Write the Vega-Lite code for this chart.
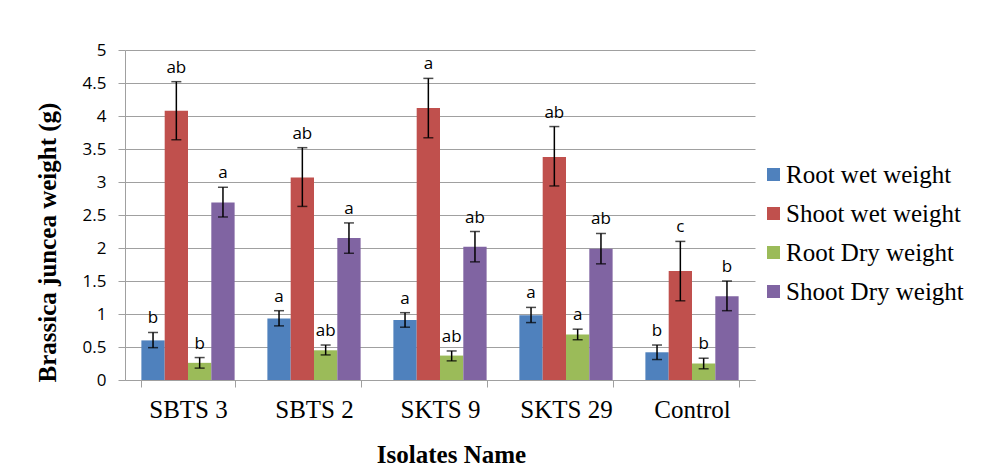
{
  "$schema": "https://vega.github.io/schema/vega-lite/v6.json",
  "width": 630,
  "height": 330,
  "autosize": "none",
  "padding": {"left": 125, "top": 50, "right": 231, "bottom": 87},
  "background": "white",
  "config": {
    "view": {"stroke": null},
    "axis": {"labelColor": "black", "titleColor": "black"},
    "legend": {
      "orient": "none",
      "legendX": 636,
      "legendY": 112,
      "symbolType": "square",
      "symbolSize": 169,
      "symbolStrokeWidth": 0,
      "labelFont": "Liberation Serif",
      "labelFontSize": 25,
      "labelColor": "black",
      "labelOffset": 0,
      "rowPadding": 13,
      "labelLimit": 300
    }
  },
  "data": {
    "values": [
      {"group": "SBTS 3", "series": "Root  wet weight", "value": 0.60, "lo": 0.49, "hi": 0.72, "letter": "b"},
      {"group": "SBTS 3", "series": "Shoot wet weight", "value": 4.08, "lo": 3.64, "hi": 4.52, "letter": "ab"},
      {"group": "SBTS 3", "series": "Root Dry weight", "value": 0.26, "lo": 0.18, "hi": 0.34, "letter": "b"},
      {"group": "SBTS 3", "series": "Shoot Dry weight", "value": 2.69, "lo": 2.47, "hi": 2.92, "letter": "a"},
      {"group": "SBTS 2", "series": "Root  wet weight", "value": 0.93, "lo": 0.82, "hi": 1.05, "letter": "a"},
      {"group": "SBTS 2", "series": "Shoot wet weight", "value": 3.07, "lo": 2.63, "hi": 3.52, "letter": "ab"},
      {"group": "SBTS 2", "series": "Root Dry weight", "value": 0.45, "lo": 0.38, "hi": 0.53, "letter": "ab"},
      {"group": "SBTS 2", "series": "Shoot Dry weight", "value": 2.15, "lo": 1.92, "hi": 2.38, "letter": "a"},
      {"group": "SKTS 9", "series": "Root  wet weight", "value": 0.91, "lo": 0.80, "hi": 1.02, "letter": "a"},
      {"group": "SKTS 9", "series": "Shoot wet weight", "value": 4.12, "lo": 3.67, "hi": 4.57, "letter": "a"},
      {"group": "SKTS 9", "series": "Root Dry weight", "value": 0.37, "lo": 0.29, "hi": 0.44, "letter": "ab"},
      {"group": "SKTS 9", "series": "Shoot Dry weight", "value": 2.02, "lo": 1.79, "hi": 2.25, "letter": "ab"},
      {"group": "SKTS 29", "series": "Root  wet weight", "value": 0.98, "lo": 0.87, "hi": 1.10, "letter": "a"},
      {"group": "SKTS 29", "series": "Shoot wet weight", "value": 3.38, "lo": 2.94, "hi": 3.84, "letter": "ab"},
      {"group": "SKTS 29", "series": "Root Dry weight", "value": 0.69, "lo": 0.61, "hi": 0.77, "letter": "a"},
      {"group": "SKTS 29", "series": "Shoot Dry weight", "value": 1.99, "lo": 1.76, "hi": 2.22, "letter": "ab"},
      {"group": "Control", "series": "Root  wet weight", "value": 0.42, "lo": 0.31, "hi": 0.53, "letter": "b"},
      {"group": "Control", "series": "Shoot wet weight", "value": 1.65, "lo": 1.20, "hi": 2.10, "letter": "c"},
      {"group": "Control", "series": "Root Dry weight", "value": 0.25, "lo": 0.17, "hi": 0.33, "letter": "b"},
      {"group": "Control", "series": "Shoot Dry weight", "value": 1.27, "lo": 1.05, "hi": 1.50, "letter": "b"}
    ]
  },
  "encoding": {
    "x": {
      "field": "group",
      "type": "nominal",
      "sort": ["SBTS 3", "SBTS 2", "SKTS 9", "SKTS 29", "Control"],
      "scale": {"paddingInner": 0.26, "paddingOuter": 0.13},
      "axis": {
        "title": "Isolates Name",
        "titleFont": "Liberation Serif",
        "titleFontSize": 25,
        "titleFontWeight": "bold",
        "titleX": 326,
        "titleY": 82,
        "titleBaseline": "alphabetic",
        "labelAngle": 0,
        "labelFont": "Liberation Serif",
        "labelFontSize": 25,
        "labelPadding": 10,
        "tickBand": "extent",
        "tickSize": 7,
        "tickColor": "#a0a0a0",
        "domainColor": "#a0a0a0",
        "grid": false
      }
    },
    "xOffset": {
      "field": "series",
      "type": "nominal",
      "sort": ["Root  wet weight", "Shoot wet weight", "Root Dry weight", "Shoot Dry weight"],
      "scale": {"paddingInner": 0, "paddingOuter": 0}
    }
  },
  "layer": [
    {
      "mark": {"type": "bar"},
      "encoding": {
        "y": {
          "field": "value",
          "type": "quantitative",
          "title": "Brassica juncea weight (g)",
          "scale": {"domain": [0, 5], "nice": false},
          "axis": {
            "values": [0, 0.5, 1, 1.5, 2, 2.5, 3, 3.5, 4, 4.5, 5],
            "format": "~g",
            "labelFont": "Open Sans",
            "labelFontSize": 17,
            "labelPadding": 12,
            "tickSize": 7,
            "tickColor": "#a0a0a0",
            "domainColor": "#a0a0a0",
            "gridColor": "#a0a0a0",
            "gridWidth": 1,
            "titleFont": "Liberation Serif",
            "titleFontSize": 25,
            "titleFontWeight": "bold",
            "titleX": -78,
            "titleY": 192,
            "titleBaseline": "middle"
          }
        },
        "color": {
          "field": "series",
          "type": "nominal",
          "sort": ["Root  wet weight", "Shoot wet weight", "Root Dry weight", "Shoot Dry weight"],
          "scale": {
            "domain": ["Root  wet weight", "Shoot wet weight", "Root Dry weight", "Shoot Dry weight"],
            "range": ["#4f81bd", "#c0504d", "#9bbb59", "#8064a2"]
          },
          "legend": {"title": null}
        }
      }
    },
    {
      "mark": {"type": "rule", "color": "black", "strokeWidth": 1.5},
      "encoding": {
        "y": {
          "field": "lo",
          "type": "quantitative",
          "title": "Brassica juncea weight (g)",
          "axis": {
            "values": [0, 0.5, 1, 1.5, 2, 2.5, 3, 3.5, 4, 4.5, 5],
            "format": "~g",
            "labelFont": "Open Sans",
            "labelFontSize": 17,
            "labelPadding": 12,
            "tickSize": 7,
            "tickColor": "#a0a0a0",
            "domainColor": "#a0a0a0",
            "gridColor": "#a0a0a0",
            "gridWidth": 1,
            "titleFont": "Liberation Serif",
            "titleFontSize": 25,
            "titleFontWeight": "bold",
            "titleX": -78,
            "titleY": 192,
            "titleBaseline": "middle"
          }
        },
        "y2": {"field": "hi"}
      }
    },
    {
      "mark": {"type": "tick", "color": "black", "size": 10, "thickness": 1.5, "orient": "horizontal"},
      "encoding": {
        "y": {
          "field": "lo",
          "type": "quantitative",
          "title": "Brassica juncea weight (g)",
          "axis": {
            "values": [0, 0.5, 1, 1.5, 2, 2.5, 3, 3.5, 4, 4.5, 5],
            "format": "~g",
            "labelFont": "Open Sans",
            "labelFontSize": 17,
            "labelPadding": 12,
            "tickSize": 7,
            "tickColor": "#a0a0a0",
            "domainColor": "#a0a0a0",
            "gridColor": "#a0a0a0",
            "gridWidth": 1,
            "titleFont": "Liberation Serif",
            "titleFontSize": 25,
            "titleFontWeight": "bold",
            "titleX": -78,
            "titleY": 192,
            "titleBaseline": "middle"
          }
        }
      }
    },
    {
      "mark": {"type": "tick", "color": "black", "size": 10, "thickness": 1.5, "orient": "horizontal"},
      "encoding": {
        "y": {
          "field": "hi",
          "type": "quantitative",
          "title": "Brassica juncea weight (g)",
          "axis": {
            "values": [0, 0.5, 1, 1.5, 2, 2.5, 3, 3.5, 4, 4.5, 5],
            "format": "~g",
            "labelFont": "Open Sans",
            "labelFontSize": 17,
            "labelPadding": 12,
            "tickSize": 7,
            "tickColor": "#a0a0a0",
            "domainColor": "#a0a0a0",
            "gridColor": "#a0a0a0",
            "gridWidth": 1,
            "titleFont": "Liberation Serif",
            "titleFontSize": 25,
            "titleFontWeight": "bold",
            "titleX": -78,
            "titleY": 192,
            "titleBaseline": "middle"
          }
        }
      }
    },
    {
      "mark": {"type": "text", "font": "Open Sans", "fontSize": 17, "color": "black", "dy": -14, "baseline": "middle"},
      "encoding": {
        "y": {
          "field": "hi",
          "type": "quantitative",
          "title": "Brassica juncea weight (g)",
          "axis": {
            "values": [0, 0.5, 1, 1.5, 2, 2.5, 3, 3.5, 4, 4.5, 5],
            "format": "~g",
            "labelFont": "Open Sans",
            "labelFontSize": 17,
            "labelPadding": 12,
            "tickSize": 7,
            "tickColor": "#a0a0a0",
            "domainColor": "#a0a0a0",
            "gridColor": "#a0a0a0",
            "gridWidth": 1,
            "titleFont": "Liberation Serif",
            "titleFontSize": 25,
            "titleFontWeight": "bold",
            "titleX": -78,
            "titleY": 192,
            "titleBaseline": "middle"
          }
        },
        "text": {"field": "letter"}
      }
    }
  ]
}
